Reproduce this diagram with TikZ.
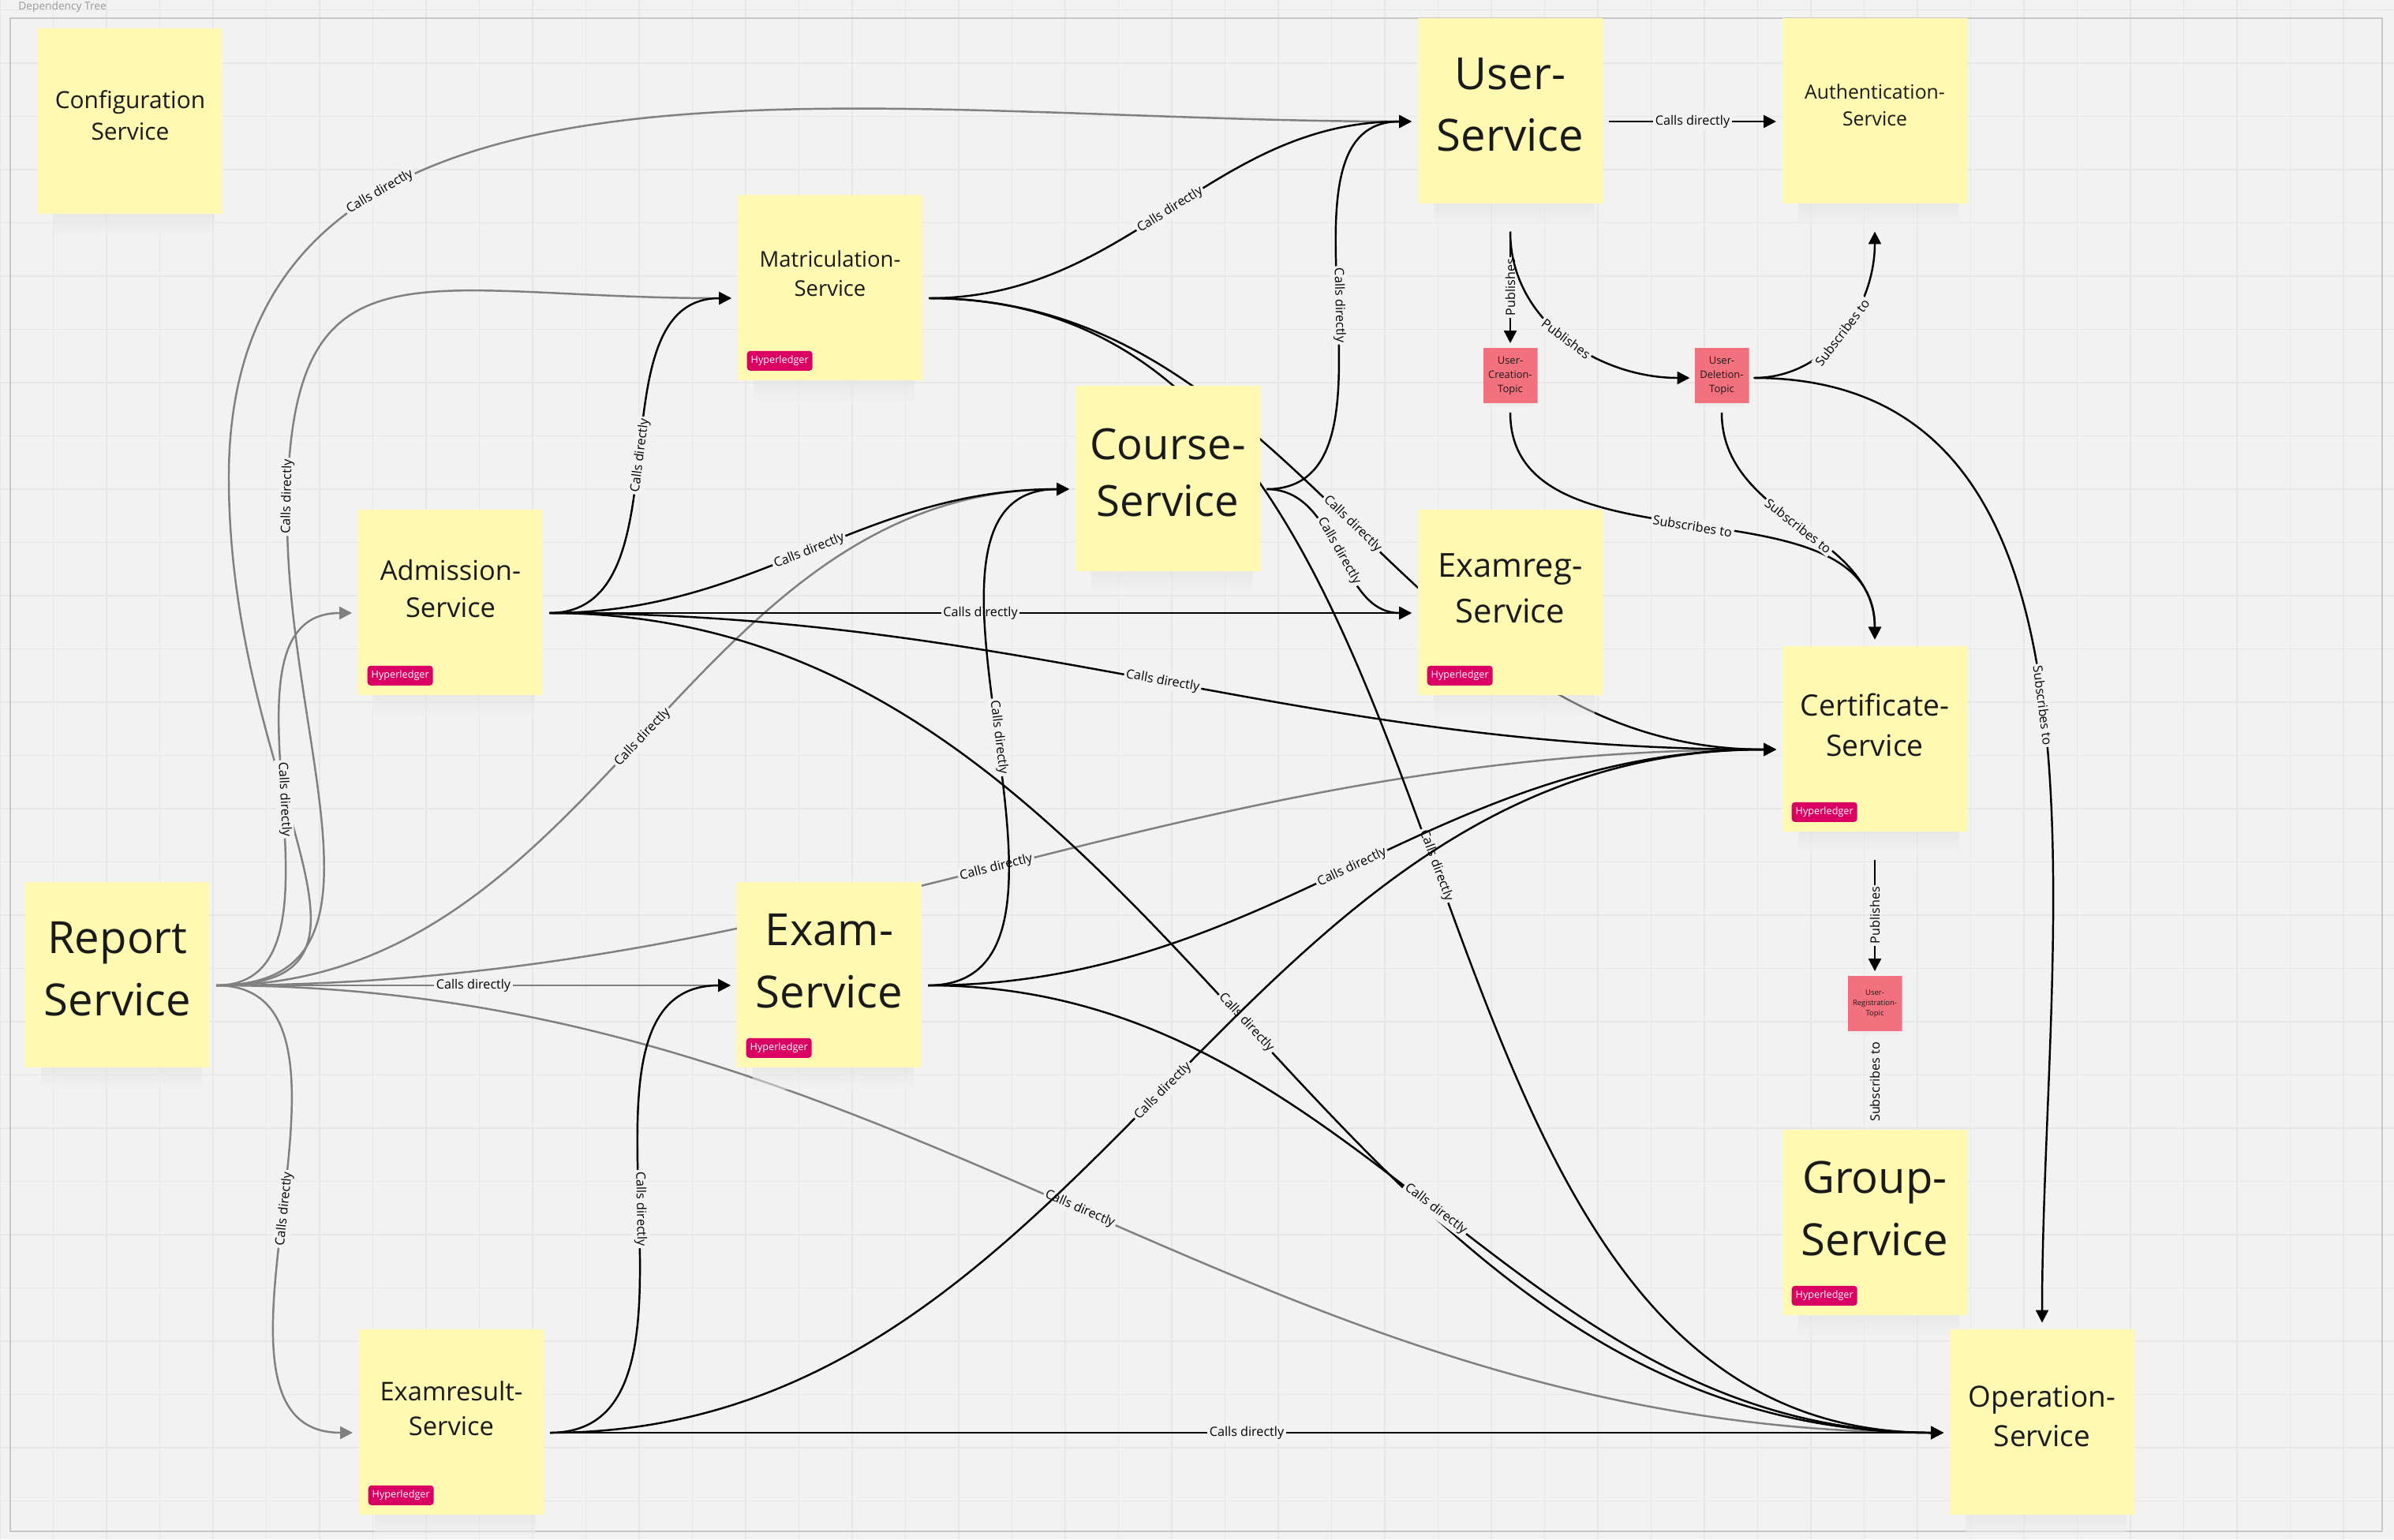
\documentclass[tikz,border=0pt]{standalone}
\usepackage{fontspec}
\setmainfont{Open Sans}
\usetikzlibrary{arrows.meta}
\definecolor{paper}{HTML}{F2F2F2}
\definecolor{gridcol}{HTML}{E7E7E7}
\definecolor{notecol}{HTML}{FFF9B1}
\definecolor{topiccol}{HTML}{F2717F}
\definecolor{tagcol}{HTML}{DA0063}
\definecolor{ink}{HTML}{1A1A1A}
\definecolor{repgrey}{HTML}{808080}
\pgfdeclarelayer{grid}
\pgfdeclarelayer{edges}
\pgfsetlayers{grid,edges,main}
\tikzset{
  note/.style={minimum width=2.34cm, minimum height=2.63cm, inner sep=0pt, outer sep=0.8mm,
    path picture={
      \shade[top color=black!70, bottom color=paper, opacity=0.5]
        ([xshift=2mm]path picture bounding box.south west) rectangle
        ([xshift=-1mm,yshift=2.8mm]path picture bounding box.south east);
      \fill[notecol] ([yshift=2.8mm]path picture bounding box.south west) rectangle
        (path picture bounding box.north east);}},
  topic/.style={minimum width=0.69cm, minimum height=0.76cm, inner sep=0pt, outer sep=0.6mm,
    path picture={
      \shade[top color=black!70, bottom color=paper, opacity=0.5]
        ([xshift=0.5mm]path picture bounding box.south west) rectangle
        ([xshift=-0.5mm,yshift=0.6mm]path picture bounding box.south east);
      \fill[topiccol] ([yshift=0.6mm]path picture bounding box.south west) rectangle
        (path picture bounding box.north east);}},
  txt/.style 2 args={align=center, text=ink, font=\fontsize{#1}{#2}\selectfont},
  tag/.style={anchor=south west, fill=tagcol, text=white, rounded corners=0.4mm,
    minimum width=0.83cm, minimum height=0.25cm, inner sep=0pt, font=\fontsize{3.6}{4}\selectfont},
  lbl/.style={midway, fill=paper, inner sep=0.7pt, text=black, font=\fontsize{4.6}{5}\selectfont},
  call/.style={->, line width=0.7pt},
}
\begin{document}
\begin{tikzpicture}[>={Triangle[length=4.5pt,width=4.5pt]}]
  \useasboundingbox (0,0) rectangle (30.34,-19.51);
  \begin{pgfonlayer}{grid}
    \fill[paper] (0,0) rectangle (30.34,-19.51);
    \draw[gridcol, line width=0.4pt, step=0.675, yshift=-1.25mm] (0,0.125) grid (30.34,-19.385);
    \draw[black!22, line width=0.6pt] (0.13,-0.23) rectangle (30.19,-19.41);
  \end{pgfonlayer}
  \node[anchor=west, text=black!40, font=\fontsize{3.9}{4}\selectfont] (title) at (0.11,-0.09) {Dependency Tree};

  \node[note] (cfg) at (1.65,-1.67) {};
  \node[note] (mat) at (10.52,-3.78) {};
  \node[note] (adm) at (5.71,-7.77) {};
  \node[note] (crs) at (14.80,-6.20) {};
  \node[note] (usr) at (19.14,-1.54) {};
  \node[note] (auth) at (23.76,-1.54) {};
  \node[note] (ereg) at (19.14,-7.77) {};
  \node[note] (cert) at (23.76,-9.50) {};
  \node[note] (grp) at (23.76,-15.63) {};
  \node[note] (op) at (25.88,-18.16) {};
  \node[note] (rep) at (1.49,-12.49) {};
  \node[note] (exam) at (10.51,-12.49) {};
  \node[note] (eres) at (5.72,-18.16) {};
  \node[topic] (tcre) at (19.14,-4.79) {};
  \node[topic] (tdel) at (21.82,-4.79) {};
  \node[topic] (treg) at (23.76,-12.75) {};

  \node[txt={8.5}{11.5}] (cfg-t) at ([yshift=2.1mm]cfg.center) {Configuration\\Service};
  \node[txt={7.8}{10.6}] (mat-t) at ([yshift=3.1mm]mat.center) {Matriculation-\\Service};
  \node[txt={9.8}{13.5}] (adm-t) at ([yshift=3.1mm]adm.center) {Admission-\\Service};
  \node[txt={15.5}{20.5}] (crs-t) at ([yshift=2.1mm]crs.center) {Course-\\Service};
  \node[txt={16}{22.3}] (usr-t) at ([yshift=2.1mm]usr.center) {User-\\Service};
  \node[txt={7.05}{9.7}] (auth-t) at ([yshift=2.1mm]auth.center) {Authentication-\\Service};
  \node[txt={11.9}{16.4}] (ereg-t) at ([yshift=3.1mm]ereg.center) {Examreg-\\Service};
  \node[txt={10.6}{14.7}] (cert-t) at ([yshift=3.1mm]cert.center) {Certificate-\\Service};
  \node[txt={16}{22.3}] (grp-t) at ([yshift=3.1mm]grp.center) {Group-\\Service};
  \node[txt={10.5}{14.3}] (op-t) at ([yshift=2.1mm]op.center) {Operation-\\Service};
  \node[txt={16}{22.3}] (rep-t) at ([yshift=2.1mm]rep.center) {Report\\Service};
  \node[txt={16}{22.3}] (exam-t) at ([yshift=3.1mm]exam.center) {Exam-\\Service};
  \node[txt={9.3}{12.6}] (eres-t) at ([yshift=3.1mm]eres.center) {Examresult-\\Service};
  \node[txt={3.7}{5.1}] (tcre-t) at ([yshift=0.3mm]tcre.center) {User-\\Creation-\\Topic};
  \node[txt={3.7}{5.1}] (tdel-t) at ([yshift=0.3mm]tdel.center) {User-\\Deletion-\\Topic};
  \node[txt={2.7}{3.75}] (treg-t) at ([yshift=0.3mm]treg.center) {User-\\Registration-\\Topic};

  \node[tag] (mat-tag) at ([shift={(0.19,0.47)}]mat.south west) {Hyperledger};
  \node[tag] (adm-tag) at ([shift={(0.19,0.47)}]adm.south west) {Hyperledger};
  \node[tag] (ereg-tag) at ([shift={(0.19,0.47)}]ereg.south west) {Hyperledger};
  \node[tag] (cert-tag) at ([shift={(0.19,0.47)}]cert.south west) {Hyperledger};
  \node[tag] (grp-tag) at ([shift={(0.19,0.47)}]grp.south west) {Hyperledger};
  \node[tag] (exam-tag) at ([shift={(0.19,0.47)}]exam.south west) {Hyperledger};
  \node[tag] (eres-tag) at ([shift={(0.19,0.47)}]eres.south west) {Hyperledger};

  \begin{pgfonlayer}{edges}
    \coordinate (w1) at (2.90,-6.05);
    \coordinate (w2) at (3.64,-6.40);
    \draw[call, repgrey] (rep.east) .. controls +(2.6,0) and +(0,-4.0) .. (w1)
      .. controls +(0,6.0) and +(-7.0,0) .. (usr.west) node[lbl, sloped, pos=0.3] {Calls directly};
    \draw[call, repgrey] (rep.east) .. controls +(2.45,0) and +(-0.05,-3.0) .. (w2)
      .. controls +(0.05,3.5) and +(-4.0,0) .. (mat.west) node[lbl, sloped, pos=0.01] {Calls directly};
    \draw[call, repgrey] (rep.east) to[out=0,in=180] node[lbl, sloped] {Calls directly} (adm.west);
    \draw[call, repgrey] (rep.east) to[out=0,in=180] node[lbl, sloped] {Calls directly} (crs.west);
    \draw[call, repgrey] (rep.east) to[out=0,in=180] node[lbl, sloped] {Calls directly} (cert.west);
    \draw[call, repgrey] (rep.east) -- node[lbl] {Calls directly} (exam.west);
    \draw[call, repgrey] (rep.east) to[out=0,in=180] node[lbl, sloped] {Calls directly} (eres.west);
    \draw[call, repgrey] (rep.east) to[out=0,in=180] node[lbl, sloped] {Calls directly} (op.west);

    \draw[call] (adm.east) to[out=0,in=180] node[lbl, sloped] {Calls directly} (mat.west);
    \draw[call] (adm.east) to[out=0,in=180] node[lbl, sloped] {Calls directly} (crs.west);
    \draw[call] (adm.east) -- node[lbl] {Calls directly} (ereg.west);
    \draw[call] (adm.east) to[out=0,in=180] node[lbl, sloped] {Calls directly} (cert.west);
    \draw[call] (adm.east) to[out=0,in=180] node[lbl, sloped] {Calls directly} (op.west);
    \draw[call] (mat.east) to[out=0,in=180] node[lbl, sloped] {Calls directly} (usr.west);
    \draw[call] (mat.east) to[out=0,in=180] node[lbl, sloped] {Calls directly} (cert.west);
    \draw[call] (mat.east) to[out=0,in=180] node[lbl, sloped] {Calls directly} (op.west);
    \draw[call] (crs.east) to[out=0,in=180] node[lbl, sloped] {Calls directly} (usr.west);
    \draw[call] (crs.east) to[out=0,in=180] node[lbl, sloped] {Calls directly} (ereg.west);
    \draw[call] (exam.east) to[out=0,in=180] node[lbl, sloped] {Calls directly} (crs.west);
    \draw[call] (exam.east) to[out=0,in=180] node[lbl, sloped] {Calls directly} (cert.west);
    \draw[call] (exam.east) to[out=0,in=180] node[lbl, sloped] {Calls directly} (op.west);
    \draw[call] (eres.east) to[out=0,in=180] node[lbl, sloped] {Calls directly} (exam.west);
    \draw[call] (eres.east) to[out=0,in=180] node[lbl, sloped] {Calls directly} (cert.west);
    \draw[call] (eres.east) -- node[lbl] {Calls directly} (op.west);

    \draw[call] (usr.east) -- node[lbl] {Calls directly} (auth.west);
    \draw[call] (usr.south) -- node[lbl, rotate=90] {Publishes} (tcre.north);
    \draw[call] (usr.south) to[out=-90,in=180] node[lbl, sloped] {Publishes} (tdel.west);
    \draw[call] (tdel.east) to[out=0,in=-90] node[lbl, sloped] {Subscribes to} (auth.south);
    \draw[call] (tdel.east) to[out=0,in=90] node[lbl, sloped] {Subscribes to} (op.north);
    \draw[call] (tcre.south) to[out=-90,in=90] node[lbl, sloped] {Subscribes to} (cert.north);
    \draw[call] (tdel.south) to[out=-90,in=90] node[lbl, sloped] {Subscribes to} (cert.north);
    \draw[call] (cert.south) -- node[lbl, rotate=90] {Publishes} (treg.north);
    \draw[call] (treg.south) -- node[lbl, rotate=90] {Subscribes to} (grp.north);
  \end{pgfonlayer}
\end{tikzpicture}
\end{document}
